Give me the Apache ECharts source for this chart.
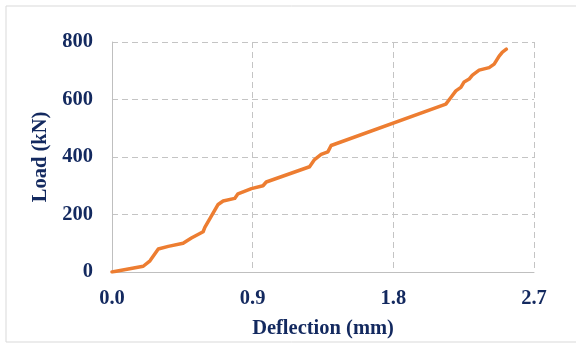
<!DOCTYPE html>
<html>
<head>
<meta charset="utf-8">
<script src="https://cdn.jsdelivr.net/npm/echarts@6/dist/echarts.min.js"></script>
<style>
html, body { margin: 0; padding: 0; background: #fff; }
#container { width: 576px; height: 344px; }
</style>
</head>
<body>
<div id="container"></div>
<script>
var dom = document.getElementById("container");
var myChart = echarts.init(dom);

// deflection (mm) and load (kN)
var deflection = [0, 0.2, 0.243, 0.296, 0.36, 0.455, 0.508, 0.583, 0.594, 0.679, 0.711, 0.785, 0.806, 0.892, 0.966, 0.987,
	1.264, 1.296, 1.338, 1.381, 1.402, 2.136, 2.168, 2.2, 2.232, 2.253, 2.285, 2.306, 2.349, 2.413, 2.445, 2.477, 2.498, 2.523];
var load = [0, 20, 39, 80, 89, 100, 118, 140, 155, 235, 247, 256, 272, 290, 300, 313,
	366, 391, 409, 418, 440, 584, 607, 630, 642, 661, 671, 685, 702, 711, 723, 751, 765, 775];

var xTicks = [0, 0.9, 1.8, 2.7];
var yTicks = [0, 200, 400, 600, 800];

var textColor = '#13295f';
var labelFont = 'Liberation Serif';
var fontSize = 20.5;

var points = [];
for (var i = 0; i < deflection.length; i++) {
	points.push([deflection[i], load[i]]);
}

var option = {
	animation: false,
	backgroundColor: '#fff',
	graphic: [{
		type: 'rect',
		shape: { x: 6, y: 6, width: 600, height: 336 },
		style: { fill: 'none', stroke: '#d9d9d9', lineWidth: 1 },
		silent: true
	}],
	grid: {
		left: 112,
		right: 42,
		top: 42,
		bottom: 71
	},
	xAxis: {
		type: 'value',
		min: xTicks[0],
		max: xTicks[xTicks.length - 1],
		interval: 0.9,
		name: 'Deflection (mm)',
		nameLocation: 'middle',
		nameGap: 46,
		nameTextStyle: { color: textColor, fontFamily: labelFont, fontWeight: 'bold', fontSize: fontSize },
		axisLine: { show: true, lineStyle: { color: '#bfbfbf', width: 1 } },
		axisTick: { show: false },
		axisLabel: {
			color: textColor, fontFamily: labelFont, fontWeight: 'bold', fontSize: fontSize, margin: 16,
			formatter: function (v) { return v.toFixed(1); }
		},
		splitLine: { show: true, lineStyle: { color: '#c4c4c4', type: [6, 4], width: 1 } }
	},
	yAxis: {
		type: 'value',
		min: yTicks[0],
		max: yTicks[yTicks.length - 1],
		interval: 200,
		name: 'Load (kN)',
		nameLocation: 'middle',
		nameGap: 55,
		nameTextStyle: { color: textColor, fontFamily: labelFont, fontWeight: 'bold', fontSize: fontSize },
		axisLine: { show: true, lineStyle: { color: '#bfbfbf', width: 1 } },
		axisTick: { show: false },
		axisLabel: { color: textColor, fontFamily: labelFont, fontWeight: 'bold', fontSize: fontSize, margin: 19 },
		splitLine: { show: true, lineStyle: { color: '#c4c4c4', type: [6, 4], width: 1 } }
	},
	series: [{
		type: 'line',
		data: points,
		showSymbol: false,
		symbol: 'none',
		lineStyle: { color: '#ed7d31', width: 3.5, cap: 'round', join: 'round' },
		z: 3
	}]
};

myChart.setOption(option);
</script>
</body>
</html>
